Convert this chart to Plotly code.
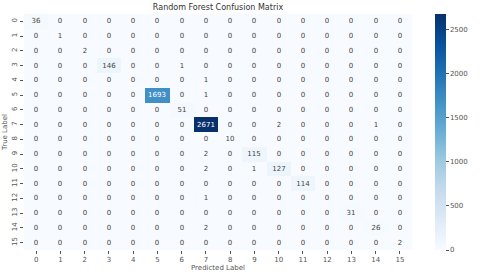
import plotly.graph_objects as go

labels = [str(i) for i in range(16)]

row_0 = [36, 0, 0, 0, 0, 0, 0, 0, 0, 0, 0, 0, 0, 0, 0, 0]
row_1 = [0, 1, 0, 0, 0, 0, 0, 0, 0, 0, 0, 0, 0, 0, 0, 0]
row_2 = [0, 0, 2, 0, 0, 0, 0, 0, 0, 0, 0, 0, 0, 0, 0, 0]
row_3 = [0, 0, 0, 146, 0, 0, 1, 0, 0, 0, 0, 0, 0, 0, 0, 0]
row_4 = [0, 0, 0, 0, 0, 0, 0, 1, 0, 0, 0, 0, 0, 0, 0, 0]
row_5 = [0, 0, 0, 0, 0, 1693, 0, 1, 0, 0, 0, 0, 0, 0, 0, 0]
row_6 = [0, 0, 0, 0, 0, 0, 51, 0, 0, 0, 0, 0, 0, 0, 0, 0]
row_7 = [0, 0, 0, 0, 0, 0, 0, 2671, 0, 0, 2, 0, 0, 0, 1, 0]
row_8 = [0, 0, 0, 0, 0, 0, 0, 0, 10, 0, 0, 0, 0, 0, 0, 0]
row_9 = [0, 0, 0, 0, 0, 0, 0, 2, 0, 115, 0, 0, 0, 0, 0, 0]
row_10 = [0, 0, 0, 0, 0, 0, 0, 2, 0, 1, 127, 0, 0, 0, 0, 0]
row_11 = [0, 0, 0, 0, 0, 0, 0, 0, 0, 0, 0, 114, 0, 0, 0, 0]
row_12 = [0, 0, 0, 0, 0, 0, 0, 1, 0, 0, 0, 0, 0, 0, 0, 0]
row_13 = [0, 0, 0, 0, 0, 0, 0, 0, 0, 0, 0, 0, 0, 31, 0, 0]
row_14 = [0, 0, 0, 0, 0, 0, 0, 2, 0, 0, 0, 0, 0, 0, 26, 0]
row_15 = [0, 0, 0, 0, 0, 0, 0, 0, 0, 0, 0, 0, 0, 0, 0, 2]

matrix = [row_0, row_1, row_2, row_3, row_4, row_5, row_6, row_7,
          row_8, row_9, row_10, row_11, row_12, row_13, row_14, row_15]

colorbar_ticks = [0, 500, 1000, 1500, 2000, 2500]

blues = [
    [0.0, "#f7fbff"], [0.125, "#deebf7"], [0.25, "#c6dbef"], [0.375, "#9ecae1"],
    [0.5, "#6baed6"], [0.625, "#4292c6"], [0.75, "#2171b5"], [0.875, "#08519c"],
    [1.0, "#08306b"],
]

font_family = "DejaVu Sans"
txt = "#555555"

fig = go.Figure(go.Heatmap(
    z=matrix, x=labels, y=labels,
    colorscale=blues, zmin=0, zmax=max(max(r) for r in matrix),
    texttemplate="%{z}", textfont=dict(size=7, family=font_family),
    xgap=0, ygap=0,
    colorbar=dict(
        thickness=11, len=1.0, lenmode="fraction", y=0.5, yanchor="middle",
        x=1.058, xanchor="left", xpad=0, ypad=0,
        outlinewidth=0, tickvals=colorbar_ticks,
        ticks="outside", ticklen=3, tickcolor=txt,
        tickfont=dict(size=7, family=font_family, color=txt),
    ),
))

fig.update_layout(
    width=480, height=272,
    margin=dict(l=24, r=60, t=14, b=22),
    paper_bgcolor="white", plot_bgcolor="white",
    font=dict(family=font_family, color=txt, size=7),
    title=dict(text="Random Forest Confusion Matrix", x=0.5, xref="paper",
               xanchor="center", y=0.972, yanchor="middle",
               font=dict(size=8, color="#333333")),
)
fig.update_xaxes(
    type="category", ticks="outside", ticklen=3, tickcolor=txt, automargin=False,
    showgrid=False, zeroline=False, showline=False,
    tickfont=dict(size=7), title=dict(text="Predicted Label", font=dict(size=7), standoff=2),
)
fig.update_yaxes(
    type="category", autorange="reversed", ticks="outside", ticklen=3, tickcolor=txt,
    automargin=False, showgrid=False, zeroline=False, showline=False, tickangle=-90,
    tickfont=dict(size=7), title=dict(text="True Label", font=dict(size=7), standoff=2),
)

fig.write_html("out.html", config={"displayModeBar": False},
               post_script="document.body.style.margin='0';")
